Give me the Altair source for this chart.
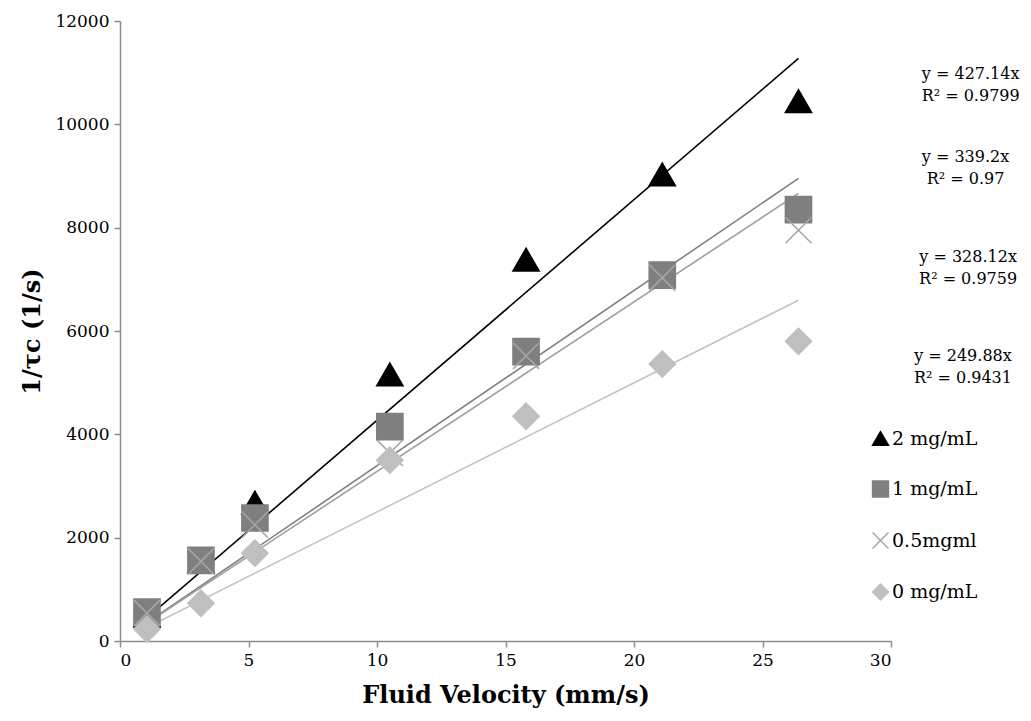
import altair as alt
import pandas as pd

# ---- data ----
velocity = [1.05, 3.15, 5.25, 10.5, 15.8, 21.1, 26.4]
series_names = ["2 mg/mL", "1 mg/mL", "0.5mgml", "0 mg/mL"]
rate_2mg = [490, 1540, 2680, 5160, 7380, 9030, 10450]
rate_1mg = [560, 1560, 2380, 4150, 5600, 7080, 8350]
rate_05mg = [540, 1540, 2250, 3640, 5520, 7030, 7950]
rate_0mg = [230, 730, 1700, 3500, 4350, 5360, 5800]
slopes = [427.14, 339.2, 328.12, 249.88]
r2_values = ["0.9799", "0.97", "0.9759", "0.9431"]
slope_labels = ["427.14", "339.2", "328.12", "249.88"]

marker_colors = ["#000000", "#7f7f7f", "#a6a6a6", "#bfbfbf"]
line_colors = ["#000000", "#808080", "#a0a0a0", "#c4c4c4"]
x_path = "M-1,-1L1,1M-1,1L1,-1"
shapes = ["triangle-up", "square", x_path, "diamond"]

# ---- tables ----
rows = []
for name, vals in zip(series_names, [rate_2mg, rate_1mg, rate_05mg, rate_0mg]):
    for v, r in zip(velocity, vals):
        rows.append({"series": name, "v": v, "rate": r})
pts = pd.DataFrame(rows)

lrows = []
for i, (name, s) in enumerate(zip(series_names, slopes)):
    for v in (min(velocity), max(velocity)):
        lrows.append({"series": name, "v": v, "fit": s * v, "order": i})
lines = pd.DataFrame(lrows)

# equation label anchors (data units, to the right of the plot)
eq_x = [33.1, 32.9, 33.0, 32.8]
eq_y = [10970, 9370, 7430, 5515]
eq_rows = []
for i in range(4):
    eq_rows.append({"x": eq_x[i], "y": eq_y[i], "t": f"y = {slope_labels[i]}x"})
    eq_rows.append({"x": eq_x[i], "y": eq_y[i] - 420, "t": f"R² = {r2_values[i]}"})
eqs = pd.DataFrame(eq_rows)

FONT = "DejaVu Serif"
xscale = alt.Scale(domain=[0, 30], nice=False, zero=True)
yscale = alt.Scale(domain=[0, 12000], nice=False)

xenc = alt.X("v:Q", scale=xscale,
             axis=alt.Axis(title="Fluid Velocity (mm/s)", values=[0, 5, 10, 15, 20, 25, 30],
                           format="d", grid=False, domainColor="#8c8c8c", domainWidth=1.5,
                           tickColor="#8c8c8c", tickWidth=1.5, tickSize=6,
                           labelFont=FONT, labelFontSize=17, labelColor="#000",
                           labelPadding=5, titleFont=FONT, titleFontSize=24,
                           titleFontWeight="bold", titleColor="#000", titlePadding=15))
yenc = alt.Y("rate:Q", scale=yscale,
             axis=alt.Axis(title="1/τc   (1/s)", values=list(range(0, 12001, 2000)),
                           format="d", grid=False, domainColor="#8c8c8c", domainWidth=1.5,
                           tickColor="#8c8c8c", tickWidth=1.5, tickSize=6,
                           labelFont=FONT, labelFontSize=17, labelColor="#000",
                           labelPadding=5, titleFont=FONT, titleFontSize=24,
                           titleFontWeight="bold", titleColor="#000", titlePadding=10))

trend = alt.Chart(lines).mark_line(strokeWidth=1.6).encode(
    x=alt.X("v:Q", scale=xscale),
    y=alt.Y("fit:Q", scale=yscale),
    detail="series:N",
    color=alt.Color("series:N", scale=alt.Scale(domain=series_names, range=line_colors), legend=None),
)

legend_cfg = alt.Legend(title=None, orient="none", legendX=751, legendY=408,
                        labelFont=FONT, labelFontSize=19, labelColor="#000",
                        symbolSize=250, symbolStrokeWidth=1.5, rowPadding=28.5,
                        labelOffset=2)

points = alt.Chart(pts).mark_point(filled=True, size=680, opacity=1, strokeWidth=1.6).encode(
    x=xenc,
    y=yenc,
    shape=alt.Shape("series:N", scale=alt.Scale(domain=series_names, range=shapes), legend=legend_cfg),
    fill=alt.Fill("series:N", scale=alt.Scale(domain=series_names, range=marker_colors), legend=legend_cfg),
    stroke=alt.Stroke("series:N", scale=alt.Scale(domain=series_names, range=marker_colors), legend=legend_cfg),
    order=alt.Order("idx:Q"),
).transform_window(idx="row_number()")

eq_text = alt.Chart(eqs).mark_text(font=FONT, fontSize=16, color="#000", align="center").encode(
    x=alt.X("x:Q", scale=xscale),
    y=alt.Y("y:Q", scale=yscale),
    text="t:N",
)

chart = alt.layer(trend, points, eq_text).resolve_scale(
    color="independent"
).properties(
    width=771, height=620,
    autosize=alt.AutoSizeParams(type="none"),
    padding={"left": 112, "top": 13, "right": 130, "bottom": 68},
    background="white",
).configure_view(stroke=None)

chart.save("out.html", embed_options={"renderer": "svg", "actions": False})
